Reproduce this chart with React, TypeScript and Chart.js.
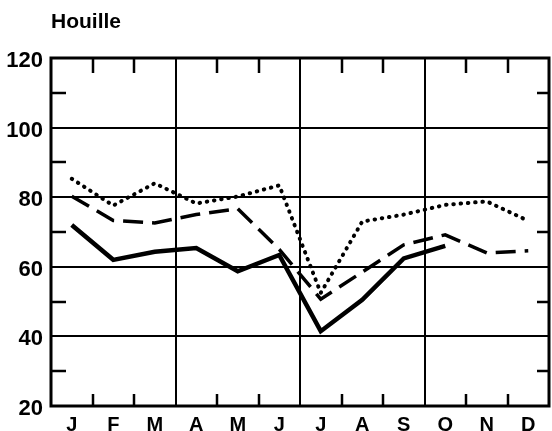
import React, { useEffect, useRef } from "react";
import { Chart, registerables } from "chart.js";

Chart.register(...registerables);

const months = ["J", "F", "M", "A", "M", "J", "J", "A", "S", "O", "N", "D"];
const solidSeries = [72, 62, 64.3, 65.4, 58.7, 63.4, 41.5, 50.5, 62.4, 66, null, null];
const dashedSeries = [80.3, 73.3, 72.6, 75, 76.7, 65, 50.7, 58.5, 66.3, 69.2, 64, 64.6];
const dottedSeries = [85.3, 77.6, 84, 78.2, 80.2, 83.4, 52.5, 73, 75, 77.8, 78.8, 73.2];
const yTicks = [20, 40, 60, 80, 100, 120];
const yMinorTicks = [30, 50, 70, 90, 110];
const quarterBoundaries = [3, 6, 9];
const title = "Houille";

const FONT = "'Liberation Sans', Arial, sans-serif";

const framePlugin = {
  id: "frame",
  beforeDatasetsDraw(chart: any) {
    const { ctx, chartArea, scales } = chart;
    const { left, right, top, bottom } = chartArea;
    const x = scales.x;
    const y = scales.y;
    ctx.save();
    ctx.strokeStyle = "#000";
    ctx.lineCap = "butt";
    ctx.lineWidth = 2;
    yTicks.forEach((v) => {
      if (v === 20 || v === 120) return;
      const py = Math.round(y.getPixelForValue(v));
      ctx.beginPath();
      ctx.moveTo(left, py);
      ctx.lineTo(right, py);
      ctx.stroke();
    });
    const boundary = (i: number) => (x.getPixelForValue(i - 1) + x.getPixelForValue(i)) / 2;
    quarterBoundaries.forEach((i) => {
      const px = Math.round(boundary(i));
      ctx.beginPath();
      ctx.moveTo(px, top);
      ctx.lineTo(px, bottom);
      ctx.stroke();
    });
    ctx.lineWidth = 2.5;
    for (let i = 1; i < months.length; i++) {
      if (quarterBoundaries.includes(i)) continue;
      const px = Math.round(boundary(i));
      ctx.beginPath();
      ctx.moveTo(px, top);
      ctx.lineTo(px, top + 15);
      ctx.moveTo(px, bottom);
      ctx.lineTo(px, bottom - 12);
      ctx.stroke();
    }
    yMinorTicks.forEach((v) => {
      const py = Math.round(y.getPixelForValue(v));
      ctx.beginPath();
      ctx.moveTo(left, py);
      ctx.lineTo(left + 15, py);
      ctx.moveTo(right, py);
      ctx.lineTo(right - 12, py);
      ctx.stroke();
    });
    ctx.lineWidth = 3;
    ctx.strokeRect(left, top, right - left, bottom - top);
    ctx.fillStyle = "#000";
    ctx.font = `bold 21px ${FONT}`;
    ctx.textAlign = "left";
    ctx.textBaseline = "alphabetic";
    ctx.fillText(title, left, 28);
    ctx.restore();
  },
};

export default function App() {
  const ref = useRef<HTMLCanvasElement>(null);
  useEffect(() => {
    document.body.style.margin = "0";
    const canvas = ref.current!;
    const chart = new Chart(canvas, {
      type: "line",
      data: {
        labels: months,
        datasets: [
          {
            data: dottedSeries,
            borderColor: "#000",
            borderWidth: 4,
            borderDash: [0.5, 6.8],
            borderCapStyle: "round",
            pointRadius: 0,
            tension: 0,
          },
          {
            data: dashedSeries,
            borderColor: "#000",
            borderWidth: 3.5,
            borderDash: [20, 9],
            pointRadius: 0,
            tension: 0,
          },
          {
            data: solidSeries,
            borderColor: "#000",
            borderWidth: 4.5,
            pointRadius: 0,
            tension: 0,
            spanGaps: false,
          },
        ],
      },
      plugins: [framePlugin],
      options: {
        animation: false,
        responsive: false,
        maintainAspectRatio: false,
        layout: { padding: { top: 58, right: 3, left: 0, bottom: 0 } },
        plugins: { legend: { display: false }, title: { display: false }, tooltip: { enabled: false } },
        scales: {
          x: {
            type: "category",
            offset: true,
            grid: { display: false, drawTicks: false, tickLength: 0 },
            border: { display: false },
            ticks: { color: "#000", font: { family: FONT, size: 20, weight: "bold" }, padding: 7, maxRotation: 0, autoSkip: false },
            afterFit: (s: any) => {
              s.height = 25;
            },
          },
          y: {
            min: 20,
            max: 120,
            grid: { display: false, drawTicks: false, tickLength: 0 },
            border: { display: false },
            ticks: {
              stepSize: 20,
              color: "#000",
              font: { family: FONT, size: 22, weight: "bold" },
              padding: 8,
              labelOffset: 3,
            },
            afterFit: (s: any) => {
              s.width = 51;
            },
          },
        },
      },
    });
    return () => chart.destroy();
  }, []);
  return (
    <div style={{ width: 552, height: 431 }}>
      <canvas ref={ref} width={552} height={431} style={{ display: "block" }} />
    </div>
  );
}
